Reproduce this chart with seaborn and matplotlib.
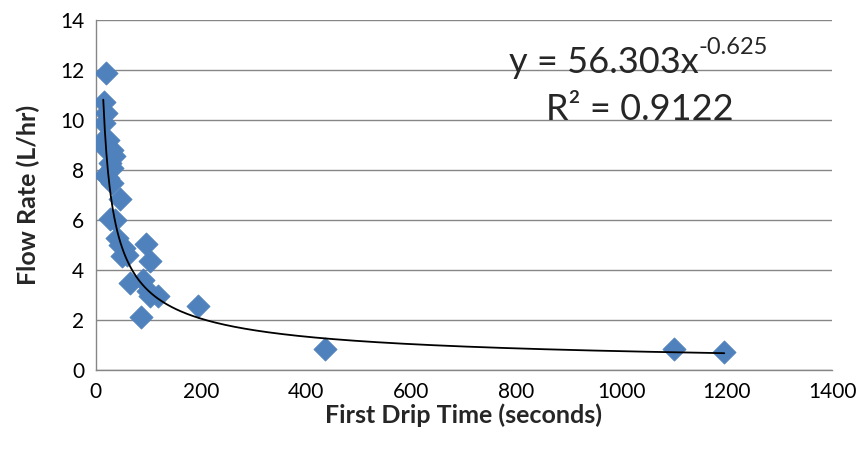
import numpy as np
import pandas as pd
import matplotlib
matplotlib.use("Agg")
import matplotlib.pyplot as plt
import seaborn as sns

# Data
first_drip_time = [19, 15, 19, 15, 13, 23, 17, 30, 34, 27, 30, 17, 23, 30,
                   45, 27, 36, 40, 45, 53, 49, 60, 95, 103, 65, 89, 99, 103,
                   118, 86, 194, 435, 1100, 1195]
flow_rate = [11.9, 10.72, 10.3, 9.9, 9.2, 9.2, 8.9, 8.8, 8.55, 8.3, 8.1, 7.8, 7.7, 7.5,
             6.85, 6.05, 6.0, 5.3, 5.0, 4.9, 4.55, 4.6, 5.05, 4.35, 3.5, 3.6, 3.15, 2.95,
             2.95, 2.1, 2.55, 0.85, 0.85, 0.72]

# Power trendline coefficients displayed on the chart
coef_a = 56.303
coef_b = -0.625
r_squared = 0.9122

x_ticks = [0, 200, 400, 600, 800, 1000, 1200, 1400]
y_ticks = [0, 2, 4, 6, 8, 10, 12, 14]

df = pd.DataFrame({"First Drip Time (seconds)": first_drip_time,
                   "Flow Rate (L/hr)": flow_rate})

sns.set_style("white")
plt.rcParams['font.family'] = ['Lato', 'DejaVu Sans']

fig = plt.figure(figsize=(8.64, 4.59), dpi=100)
ax = fig.add_axes([0.111, 0.194, 0.852, 0.762])

sns.scatterplot(data=df, x="First Drip Time (seconds)", y="Flow Rate (L/hr)",
                marker="D", s=140, color="#4F81BD", edgecolor="#4F81BD",
                linewidth=0.5, ax=ax, zorder=3)

xs = np.linspace(min(first_drip_time) + 1, max(first_drip_time), 400)
ax.plot(xs, coef_a * xs ** coef_b, color="black", linewidth=1.3, zorder=4)

ax.set_xlim(0, 1400)
ax.set_ylim(0, 14)
ax.set_xticks(x_ticks)
ax.set_yticks(y_ticks)
ax.tick_params(axis="both", labelsize=15, direction="out", length=5,
               width=1, labelcolor="black", color="#868686")
ax.yaxis.grid(True, color="#868686", linewidth=1)
ax.xaxis.grid(False)
ax.set_axisbelow(True)
for side in ["top", "right"]:
    ax.spines[side].set_visible(False)
for side in ["left", "bottom"]:
    ax.spines[side].set_color("#868686")
    ax.spines[side].set_linewidth(1)

ax.set_xlabel("First Drip Time (seconds)", fontsize=18, fontweight="bold", labelpad=1)
ax.set_ylabel("Flow Rate (L/hr)", fontsize=18, fontweight="bold", labelpad=14)

eq = ax.text(0.69, 0.88, "y = 56.303x", transform=ax.transAxes,
             fontsize=26, ha="center", va="center")
ax.annotate(f"{coef_b:.3f}", xy=(1.0, 0.62), xycoords=eq,
            fontsize=17, ha="left", va="bottom")
ax.text(0.739, 0.746, f"R² = {r_squared}", transform=ax.transAxes,
        fontsize=26, ha="center", va="center")

fig.savefig("out.png", dpi=100)
